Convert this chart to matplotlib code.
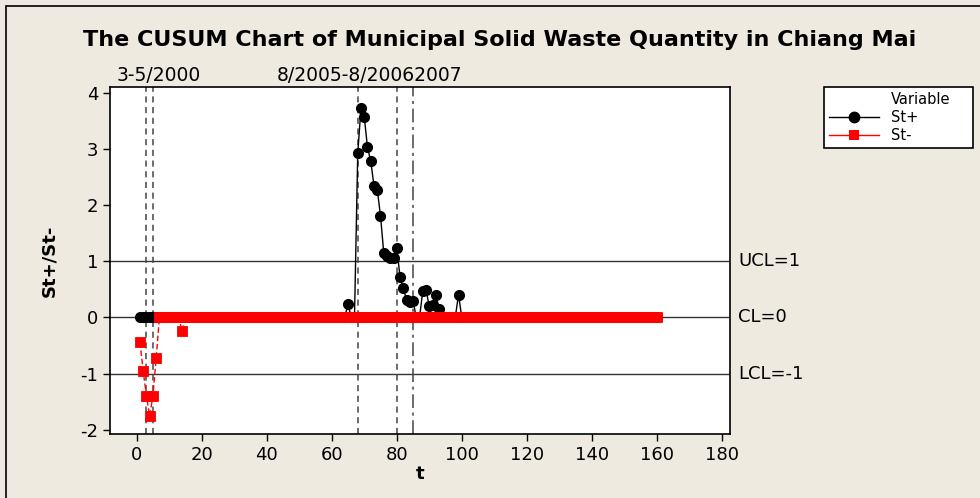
import numpy as np
import matplotlib
matplotlib.use("Agg")
from matplotlib import pyplot as plt
import matplotlib.lines as mlines
from matplotlib import patches as patches

plt.rcParams["axes.unicode_minus"] = False

# time index (months, t=1 is Jan 2000)
t = np.arange(1, 161)

# St+ : non-zero values only, everything else is 0
splus_t = [65, 68, 69, 70, 71, 72, 73, 74, 75, 76, 77, 78, 79, 80, 81, 82, 83, 84, 85,
           88, 89, 90, 91, 92, 93, 99]
splus_v = [0.24, 2.93, 3.74, 3.58, 3.04, 2.79, 2.35, 2.28, 1.82, 1.15, 1.10, 1.06, 1.07,
           1.24, 0.73, 0.52, 0.32, 0.27, 0.30,
           0.47, 0.49, 0.20, 0.22, 0.40, 0.16, 0.41]

# St- : non-zero values only
sminus_t = [1, 2, 3, 4, 5, 6, 14]
sminus_v = [-0.44, -0.95, -1.40, -1.76, -1.40, -0.72, -0.25]

# control limits
limits = [1, 0, -1]
limit_labels = ["UCL=1", "CL=0", "LCL=-1"]

# reference (event) lines
dashed_at = [3, 5, 68, 80]
dashdot_at = [85]

splus = np.zeros(len(t))
splus[np.array(splus_t) - 1] = splus_v
sminus = np.zeros(len(t))
sminus[np.array(sminus_t) - 1] = sminus_v

bg = "#eeeae0"
fs = 13
fig = plt.figure(figsize=(9.8, 4.98), dpi=100, facecolor=bg)
ax = fig.add_axes([110/980, 1-434/498, 620/980, (434-86.7)/498])
ax.set_facecolor("white")

# frame around whole figure (left and top visible)
fig.patches.append(patches.Rectangle((6/980, -0.1), 1.2, 1-6/498+0.1, transform=fig.transFigure,
                                     fill=False, edgecolor="black", linewidth=1.2))

for lim, lab in zip(limits, limit_labels):
    ax.axhline(lim, color="#333333", lw=1, zorder=1)
    ax.text(1.013, lim, lab, transform=ax.get_yaxis_transform(), va="center", ha="left",
            fontsize=fs, clip_on=False)

for x in dashed_at:
    ax.axvline(x, color="#444444", lw=1.1, ls=(0, (4, 3)), zorder=1)
for x in dashdot_at:
    ax.axvline(x, color="#444444", lw=1.1, ls=(0, (9, 3, 2, 3)), zorder=1)

ax.text(-6.2, 1.004, "3-5/2000", transform=ax.get_xaxis_transform(), ha="left", va="bottom",
        fontsize=13.5)
ax.text(43.2, 1.004, "8/2005-8/20062007", transform=ax.get_xaxis_transform(), ha="left",
        va="bottom", fontsize=13.5)

ax.plot(t, splus, color="black", lw=1, marker="o", markersize=7, zorder=3)
ax.plot(t, sminus, color="red", lw=1, ls=(0, (4, 2)), marker="s", markersize=6.6,
        markeredgewidth=0.6, markeredgecolor="red", zorder=4)

ax.set_xlim(-8.2, 182.5)
ax.set_ylim(-2.08, 4.12)
ax.set_xticks(np.arange(0, 181, 20))
ax.set_yticks(np.arange(-2, 5, 1))
ax.tick_params(direction="out", length=5, labelsize=fs, width=1)
for s in ax.spines.values():
    s.set_linewidth(1.2)

ax.set_xlabel("t", fontsize=fs, fontweight="bold", labelpad=1)
ax.set_ylabel("St+/St-", fontsize=fs, fontweight="bold", labelpad=16)

fig.text(500/980, 1-40/498, "The CUSUM Chart of Municipal Solid Waste Quantity in Chiang Mai",
         ha="center", va="center", fontsize=16, fontweight="bold")

handles = [mlines.Line2D([], [], color="none", label="Variable"),
           mlines.Line2D([], [], color="black", lw=1, marker="o", markersize=7.5, label="St+"),
           mlines.Line2D([], [], color="red", lw=1, marker="s", markersize=6.5,
                         markeredgewidth=0, label="St-")]
leg = fig.legend(handles=handles, loc="upper left", mode="expand",
                 bbox_to_anchor=(824/980, 1-146/498, 149/980, 59/498), borderaxespad=0,
                 fontsize=10.5, fancybox=False, edgecolor="black", framealpha=1,
                 handlelength=3.4, handletextpad=0.85, labelspacing=0.2, borderpad=0.35)
leg.get_frame().set_linewidth(1.2)

fig.savefig("out.png", dpi=100, facecolor=bg)
